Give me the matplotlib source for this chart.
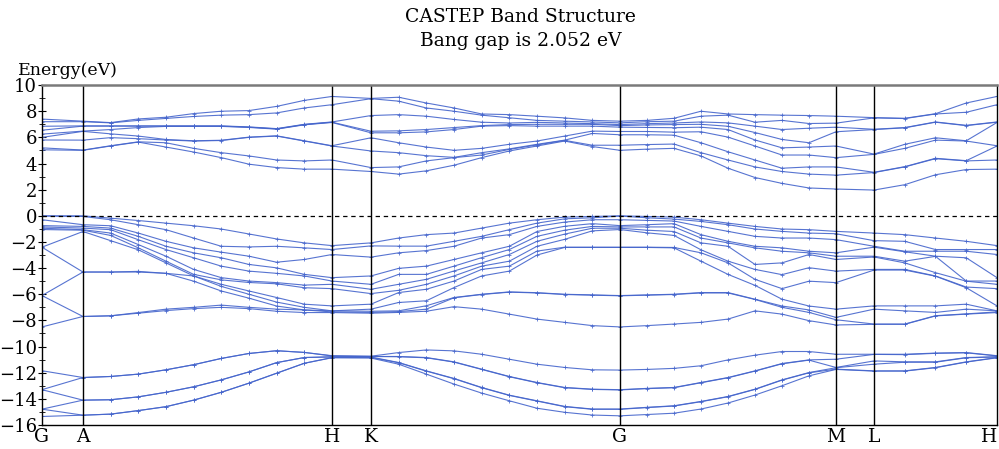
import numpy as np
import matplotlib
matplotlib.use('Agg')
import matplotlib.pyplot as plt

# k-path: high symmetry labels, segment lengths and number of steps per segment
labels = ['G', 'A', 'H', 'K', 'G', 'M', 'L', 'H']
seg_len = [0.41, 2.49, 0.39, 2.49, 2.16, 0.38, 1.23]
seg_div = [1, 9, 1, 9, 8, 1, 4]
band_gap = 2.052

# energies (eV) at every k-point, one row per k-point (order inside a row does not matter)
core = [
    [-11.85, -13.3, -13.3, -14.79, -14.79, -15.35],   # G
    [-12.37, -12.37, -14.1, -14.1, -15.25, -15.25],   # A
    [-12.29, -12.29, -14.07, -14.07, -15.17, -15.17],
    [-12.11, -12.11, -13.85, -13.85, -14.9, -14.9],
    [-11.78, -11.78, -13.5, -13.5, -14.6, -14.6],
    [-11.39, -11.39, -13.08, -13.08, -14.1, -14.1],
    [-10.91, -10.91, -12.55, -12.55, -13.5, -13.5],
    [-10.53, -10.53, -11.94, -11.94, -12.8, -12.8],
    [-10.32, -10.32, -11.23, -11.23, -12.04, -12.04],
    [-10.45, -10.45, -10.84, -10.84, -11.28, -11.28],
    [-10.7, -10.72, -10.78, -10.8, -10.84, -10.86],    # H
    [-10.74, -10.76, -10.76, -10.8, -10.84, -10.88],   # K
    [-10.46, -10.76, -10.78, -11.22, -11.24, -11.35],
    [-10.26, -10.84, -10.86, -11.86, -11.88, -12.11],
    [-10.33, -11.17, -11.19, -12.44, -12.46, -12.87],
    [-10.59, -11.73, -11.75, -13.13, -13.15, -13.56],
    [-10.97, -12.29, -12.31, -13.72, -13.74, -14.15],
    [-11.35, -12.75, -12.77, -14.15, -14.17, -14.72],
    [-11.6, -13.13, -13.15, -14.58, -14.6, -15.03],
    [-11.78, -13.26, -13.28, -14.78, -14.8, -15.24],
    [-11.8, -13.3, -13.32, -14.78, -14.8, -15.3],      # G
    [-11.75, -13.2, -13.22, -14.65, -14.67, -15.2],
    [-11.67, -13.13, -13.15, -14.53, -14.55, -15.1],
    [-11.47, -12.75, -12.77, -14.2, -14.22, -14.78],
    [-11.02, -12.37, -12.39, -13.82, -13.84, -14.32],
    [-10.66, -11.86, -11.88, -13.26, -13.28, -13.71],
    [-10.38, -11.3, -11.32, -12.55, -12.57, -13.0],
    [-10.38, -11.02, -11.04, -11.99, -12.01, -12.24],
    [-10.59, -10.97, -11.6, -11.62, -11.73, -11.75],   # M
    [-10.59, -10.6, -11.1, -11.35, -11.86, -11.88],    # L
    [-10.59, -10.62, -11.17, -11.2, -11.86, -11.88],
    [-10.5, -10.52, -11.17, -11.2, -11.6, -11.62],
    [-10.46, -10.48, -10.84, -10.86, -11.17, -11.19],
    [-10.7, -10.72, -10.78, -10.8, -10.84, -10.86],    # H
]

valence = [
    [0.0, -0.02, -0.3, -0.75, -0.85, -0.95, -1.05, -2.4, -2.4, -6.1, -6.1, -8.5],        # G
    [0.0, -0.05, -0.68, -0.81, -0.94, -1.06, -1.1, -1.2, -4.3, -4.3, -7.7, -7.7],        # A
    [-0.18, -0.3, -0.76, -0.94, -1.06, -1.32, -1.9, -1.5, -4.3, -4.3, -7.65, -7.65],
    [-0.36, -0.68, -1.32, -1.57, -1.83, -2.2, -2.45, -2.6, -4.25, -4.3, -7.4, -7.45],
    [-0.56, -1.06, -1.95, -2.33, -2.58, -3.09, -3.47, -3.6, -4.4, -4.4, -7.14, -7.25],
    [-0.76, -1.7, -2.45, -2.83, -3.21, -4.1, -4.48, -4.6, -5.0, -4.6, -7.0, -7.1],
    [-1.01, -2.33, -2.78, -3.21, -3.85, -4.73, -5.24, -5.4, -5.75, -4.9, -6.83, -7.0],
    [-1.39, -2.38, -3.09, -3.72, -4.23, -4.99, -5.75, -6.0, -6.3, -5.1, -7.0, -7.1],
    [-1.77, -2.33, -3.55, -3.98, -4.4, -5.11, -6.25, -6.6, -6.9, -5.2, -7.14, -7.3],
    [-2.07, -2.45, -3.34, -4.48, -4.6, -5.5, -6.76, -7.0, -7.2, -5.3, -7.2, -7.4],
    [-2.28, -2.58, -2.96, -4.73, -4.99, -5.24, -5.57, -6.89, -7.27, -7.27, -7.35, -7.4],  # H
    [-2.07, -2.3, -3.16, -4.6, -5.24, -5.62, -5.95, -6.76, -7.14, -7.3, -7.39, -7.45],   # K
    [-1.7, -2.32, -2.83, -4.02, -4.48, -5.24, -5.7, -5.87, -6.63, -7.27, -7.33, -7.39],
    [-1.44, -2.32, -2.66, -3.85, -4.48, -4.86, -5.24, -5.62, -6.5, -6.88, -7.14, -7.3],
    [-1.32, -1.95, -2.33, -3.34, -3.85, -4.22, -4.6, -4.99, -5.49, -6.25, -6.27, -6.95],
    [-0.94, -1.57, -1.7, -2.83, -3.2, -3.6, -3.85, -4.1, -4.6, -6.0, -6.02, -7.14],
    [-0.56, -1.06, -1.44, -2.33, -2.58, -2.96, -3.47, -3.85, -4.23, -5.82, -5.84, -7.52],
    [-0.3, -0.56, -0.81, -1.2, -1.57, -1.95, -2.33, -2.7, -3.0, -5.88, -5.9, -7.9],
    [-0.1, -0.23, -0.48, -0.8, -1.1, -1.4, -1.8, -2.4, -2.42, -6.0, -6.02, -8.15],
    [-0.05, -0.15, -0.3, -0.6, -0.81, -0.95, -1.15, -2.4, -2.42, -6.05, -6.07, -8.4],
    [0.0, -0.02, -0.3, -0.75, -0.85, -0.95, -1.05, -2.4, -2.42, -6.1, -6.12, -8.5],      # G
    [-0.05, -0.15, -0.35, -0.68, -0.85, -1.1, -1.3, -2.4, -2.42, -6.05, -6.07, -8.4],
    [-0.1, -0.25, -0.4, -0.6, -0.85, -1.2, -1.5, -2.42, -2.45, -6.0, -6.02, -8.28],
    [-0.3, -0.43, -0.81, -1.44, -1.7, -2.07, -2.6, -2.83, -3.47, -5.87, -5.9, -8.15],
    [-0.56, -0.68, -1.19, -1.95, -2.07, -2.33, -3.47, -3.6, -4.48, -5.87, -5.9, -7.9],
    [-0.81, -1.01, -1.57, -2.33, -2.45, -3.72, -4.1, -4.86, -5.32, -6.38, -6.4, -7.27],
    [-1.01, -1.19, -1.7, -2.45, -2.71, -3.6, -4.5, -5.57, -6.38, -6.9, -7.0, -7.52],
    [-1.06, -1.32, -1.7, -2.71, -2.83, -2.96, -3.97, -5.0, -6.9, -7.2, -7.39, -8.02],
    [-1.19, -1.37, -1.82, -2.83, -3.09, -3.34, -4.23, -5.11, -7.14, -7.77, -7.95, -8.35],  # M
    [-1.32, -1.9, -2.33, -2.4, -3.09, -3.15, -4.1, -4.15, -6.89, -7.14, -8.28, -8.3],     # L
    [-1.44, -1.95, -2.71, -2.75, -3.47, -3.6, -4.1, -4.15, -6.89, -7.27, -8.28, -8.3],
    [-1.7, -2.58, -2.71, -3.09, -3.1, -4.35, -4.6, -4.62, -6.89, -7.39, -7.64, -7.66],
    [-1.95, -2.58, -2.71, -3.21, -4.99, -5.0, -5.45, -5.5, -6.76, -7.14, -7.5, -7.52],
    [-2.28, -2.58, -2.96, -4.73, -4.99, -5.24, -5.57, -6.89, -7.27, -7.27, -7.35, -7.4],  # H
]

conduction = [
    [5.05, 5.2, 5.8, 6.0, 6.25, 6.55, 6.85, 7.2, 7.4],        # G
    [5.01, 5.03, 5.79, 6.46, 6.48, 6.86, 6.88, 7.2, 7.24],    # A
    [5.34, 5.36, 5.98, 6.27, 6.6, 6.86, 6.88, 7.11, 7.13],
    [5.64, 5.66, 5.9, 6.1, 6.75, 6.86, 6.88, 7.3, 7.41],
    [5.26, 5.59, 5.8, 5.84, 6.84, 6.86, 6.88, 7.45, 7.54],
    [4.88, 5.16, 5.72, 5.74, 6.84, 6.86, 6.88, 7.6, 7.82],
    [4.45, 4.83, 5.76, 5.78, 6.84, 6.86, 6.88, 7.7, 8.0],
    [3.95, 4.58, 6.0, 6.02, 6.76, 6.78, 6.8, 7.74, 8.05],
    [3.69, 4.27, 6.1, 6.12, 6.63, 6.65, 6.67, 7.87, 8.37],
    [3.57, 4.2, 5.72, 5.74, 6.96, 6.98, 7.0, 8.25, 8.83],
    [3.57, 4.27, 5.34, 5.36, 7.14, 7.16, 7.18, 8.5, 9.13],    # H
    [3.39, 3.69, 4.96, 5.97, 6.35, 6.47, 7.67, 8.96, 8.98],   # K
    [3.19, 3.74, 4.83, 5.59, 6.35, 6.5, 7.74, 8.77, 9.07],
    [3.44, 4.2, 4.6, 5.26, 6.42, 6.6, 7.62, 8.25, 8.63],
    [3.87, 4.45, 4.47, 5.01, 6.6, 6.75, 7.37, 8.0, 8.25],
    [4.45, 4.65, 4.83, 5.16, 6.86, 6.9, 7.16, 7.7, 7.79],
    [4.96, 5.08, 5.12, 5.47, 6.9, 6.98, 7.1, 7.5, 7.74],
    [5.34, 5.42, 5.47, 5.72, 6.86, 7.0, 7.15, 7.3, 7.62],
    [5.72, 5.77, 5.79, 6.1, 6.86, 7.0, 7.1, 7.24, 7.49],
    [5.3, 5.4, 6.3, 6.48, 6.86, 7.0, 7.05, 7.18, 7.3],
    [5.01, 5.4, 6.2, 6.45, 6.78, 6.9, 6.98, 7.11, 7.24],      # G
    [5.1, 5.45, 6.2, 6.45, 6.76, 6.95, 7.05, 7.2, 7.3],
    [5.16, 5.49, 6.17, 6.4, 6.74, 6.98, 7.1, 7.24, 7.46],
    [4.58, 4.83, 5.59, 6.43, 6.78, 7.0, 7.18, 7.62, 8.0],
    [3.64, 4.27, 4.9, 6.02, 6.6, 6.85, 7.11, 7.7, 7.79],
    [2.93, 3.74, 4.27, 5.34, 5.8, 6.37, 6.86, 7.16, 7.74],
    [2.48, 3.39, 3.64, 4.65, 5.2, 5.84, 6.6, 7.3, 7.7],
    [2.13, 3.19, 3.74, 4.65, 5.26, 5.59, 6.7, 7.06, 7.67],
    [2.05, 3.11, 3.74, 4.45, 5.34, 6.43, 6.78, 7.09, 7.62],   # M
    [1.97, 3.31, 3.33, 4.7, 4.72, 6.6, 6.62, 7.49, 7.51],     # L
    [2.38, 3.74, 3.76, 5.16, 5.47, 6.73, 6.75, 7.44, 7.46],
    [3.14, 4.37, 4.4, 5.79, 5.97, 7.16, 7.18, 7.79, 7.81],
    [3.54, 4.2, 4.22, 5.72, 5.74, 6.9, 6.92, 7.92, 8.63],
    [3.57, 4.27, 5.34, 5.36, 7.14, 7.16, 7.18, 8.5, 9.13],    # H
]

# cumulative k distance along the path
kx = [0.0]
for length, n in zip(seg_len, seg_div):
    for i in range(n):
        kx.append(kx[-1] + length / n)
kx = np.array(kx)
ticks = np.concatenate([[0.0], np.cumsum(seg_len)])

plt.rcParams['font.family'] = 'DejaVu Serif'
fig = plt.figure(figsize=(9.99, 4.49), dpi=100)
ax = fig.add_axes([0.042, 0.0535, 0.956, 0.757])

line_color = '#4565cc'
for block in (core, valence, conduction):
    bands = np.sort(np.array(block), axis=1)
    for b in range(bands.shape[1]):
        ax.plot(kx, bands[:, b], color=line_color, lw=0.8, marker='+',
                ms=3.5, mew=0.6, alpha=0.9)

ax.axhline(0, color='black', lw=0.9, ls=(0, (3.5, 3)))
for t in ticks[1:-1]:
    ax.axvline(t, color='black', lw=1.0)

ax.set_xlim(ticks[0], ticks[-1])
ax.set_ylim(-16, 10)
ax.set_xticks(ticks)
ax.set_xticklabels(labels, fontsize=13.5)
ax.get_xticklabels()[-1].set_horizontalalignment('right')
ax.set_yticks(np.arange(-16, 11, 2))
ax.set_yticks(np.arange(-16, 11, 1), minor=True)
ax.tick_params(axis='y', which='major', direction='inout', length=6, labelsize=13, pad=0.5)
ax.tick_params(axis='y', which='minor', direction='inout', length=4)
ax.tick_params(axis='x', length=0, pad=2)

for side in ('left', 'bottom', 'right'):
    ax.spines[side].set_color('black')
    ax.spines[side].set_linewidth(1.0)
ax.spines['top'].set_color('#7a7a7a')
ax.spines['top'].set_linewidth(1.8)

fig.text(0.521, 0.962, 'CASTEP Band Structure', ha='center', va='center', fontsize=13.5)
fig.text(0.521, 0.909, 'Bang gap is %.3f eV' % band_gap, ha='center', va='center', fontsize=13.5)
fig.text(0.018, 0.844, 'Energy(eV)', ha='left', va='center', fontsize=12.5)

fig.savefig('out.png', dpi=100)
